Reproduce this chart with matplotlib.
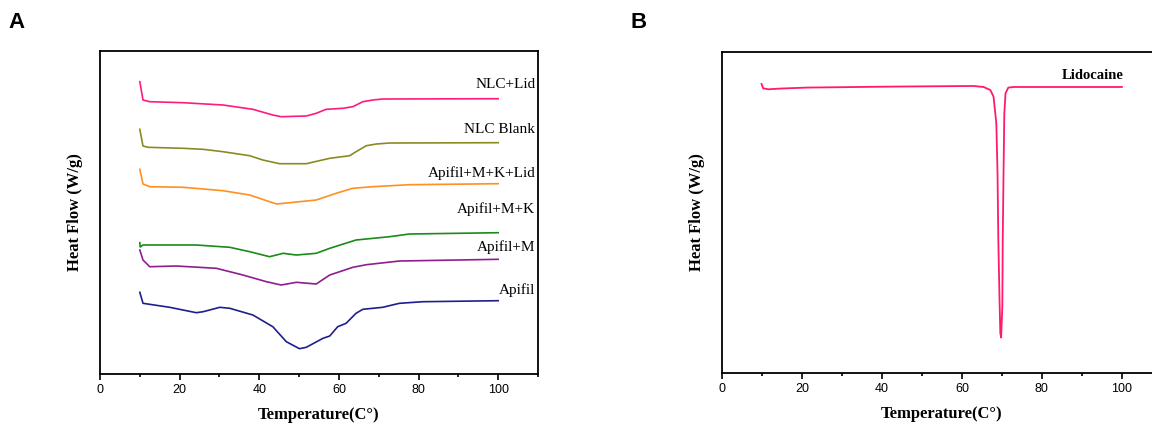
import numpy as np
import matplotlib.pyplot as plt
from matplotlib.ticker import MultipleLocator

# DSC thermograms, heat flow in arbitrary (offset) units
t_nlc_lid = [10, 10.8, 12.5, 20.9, 30.9, 38.4, 43.4, 45.5, 51.8, 54.3, 56.8, 61, 63.5, 66, 68.5, 71, 100]
hf_nlc_lid = [29.23, 27.4, 27.23, 27.13, 26.9, 26.47, 25.9, 25.73, 25.8, 26.07, 26.47, 26.57, 26.73, 27.23, 27.4, 27.5, 27.53]

t_nlc_blank = [10, 10.8, 12.1, 20.9, 25.9, 30.9, 37.6, 40.9, 45.1, 51.8, 57.7, 62.7, 64.3, 66.9, 69.4, 72.7, 100]
hf_nlc_blank = [24.47, 22.8, 22.67, 22.57, 22.47, 22.23, 21.83, 21.4, 21.03, 21.03, 21.57, 21.83, 22.23, 22.83, 23.0, 23.1, 23.13]

t_mkl = [10, 10.8, 12.5, 20.9, 30.9, 37.6, 44.3, 47.6, 54.3, 59.3, 63.5, 68.5, 77.7, 100]
hf_mkl = [20.47, 19.0, 18.73, 18.67, 18.33, 17.9, 17.0, 17.13, 17.4, 18.07, 18.57, 18.73, 18.93, 19.03]

t_mk = [10, 10.1, 10.8, 24.2, 32.6, 37.6, 42.6, 46, 49.3, 54.3, 57.7, 64.3, 72.7, 77.7, 100]
hf_mk = [13.13, 12.7, 12.9, 12.9, 12.67, 12.23, 11.73, 12.07, 11.9, 12.07, 12.57, 13.4, 13.73, 14.0, 14.13]

t_m = [10, 10.8, 12.5, 19.2, 29.2, 35.9, 41.8, 45.5, 49.3, 54.3, 57.7, 63.5, 66.9, 75.2, 100]
hf_m = [12.4, 11.4, 10.73, 10.8, 10.57, 9.9, 9.23, 8.9, 9.17, 9.0, 9.9, 10.67, 10.93, 11.3, 11.47]

t_apifil = [10, 10.8, 17.5, 24.2, 25.9, 30.1, 32.6, 38.4, 43.4, 46.8, 50.1, 51.8, 56, 57.7, 59.7, 61.8, 64.3, 66, 71, 75.2, 81.1, 100]
hf_apifil = [8.17, 7.07, 6.67, 6.13, 6.23, 6.67, 6.57, 5.9, 4.73, 3.23, 2.53, 2.67, 3.57, 3.8, 4.73, 5.07, 6.07, 6.47, 6.67, 7.07, 7.23, 7.33]

t_lido = [9.9, 10.3, 11.6, 14.5, 21.2, 42.9, 62.9, 65.4, 67.1, 67.9, 68.6, 68.9, 69.1, 69.4, 69.6, 69.8,
          70.1, 70.2, 70.4, 70.6, 70.9, 71.6, 72.9, 100]
hf_lido = [28.93, 28.5, 28.4, 28.47, 28.57, 28.67, 28.73, 28.63, 28.33, 27.67, 25.0, 20.0, 13.33, 7.33, 4.0, 3.57,
           6.67, 13.33, 20.0, 26.0, 28.0, 28.57, 28.63, 28.63]

labels_a = ['NLC+Lid', 'NLC Blank', 'Apifil+M+K+Lid', 'Apifil+M+K', 'Apifil+M', 'Apifil']
label_y = [29.0, 24.47, 20.13, 16.5, 12.67, 8.4]
colors_a = ['#ff1a80', '#8a8a25', '#ff9020', '#1a8a1a', '#8e1e8e', '#1e1e8e']

curves = [(t_nlc_lid, hf_nlc_lid), (t_nlc_blank, hf_nlc_blank), (t_mkl, hf_mkl),
          (t_mk, hf_mk), (t_m, hf_m), (t_apifil, hf_apifil)]

serif = ['Liberation Serif', 'DejaVu Serif']
sans = ['Liberation Sans', 'DejaVu Sans']

fig = plt.figure(figsize=(11.52, 4.24), dpi=100)
ax1 = fig.add_axes([0.0868, 0.1179, 0.3802, 0.7618])
ax2 = fig.add_axes([0.6267, 0.1196, 0.3819, 0.7585])


def style_axis(ax, ytop):
    ax.set_xlim(0, 110)
    ax.set_ylim(0, ytop)
    ax.xaxis.set_major_locator(MultipleLocator(20))
    ax.xaxis.set_minor_locator(MultipleLocator(10))
    ax.tick_params(axis='x', which='major', direction='out', length=4, width=1.2,
                   labelsize=9, pad=3, top=False)
    ax.tick_params(axis='x', which='minor', direction='out', length=2.5, width=1.2, top=False)
    ax.set_yticks([])
    for lab in ax.get_xticklabels():
        lab.set_family(sans)
    for sp in ax.spines.values():
        sp.set_linewidth(1.3)
    ax.set_xlabel('Temperature(C°)', family=serif, fontweight='bold', fontsize=12, labelpad=8)
    ax.set_ylabel('Heat Flow (W/g)', family=serif, fontweight='bold', fontsize=12, labelpad=12)


for (t, hf), c, lab, ly in zip(curves, colors_a, labels_a, label_y):
    ax1.plot(t, hf, color=c, lw=1.2)
    ax1.text(109.3, ly, lab, ha='right', va='center', family=serif, fontsize=11)
style_axis(ax1, 32.3)

ax2.plot(t_lido, hf_lido, color='#ff1a6e', lw=1.3)
ax2.text(92.8, 29.8, 'Lidocaine', ha='center', va='center', family=serif, fontsize=10.5, fontweight='bold')
style_axis(ax2, 32.16)

fig.text(8 / 1152, 1 - 23 / 424, 'A', family=sans, fontweight='bold', fontsize=16, va='center', ha='left')
fig.text(630 / 1152, 1 - 23 / 424, 'B', family=sans, fontweight='bold', fontsize=16, va='center', ha='left')

fig.savefig('out.png', dpi=100)
